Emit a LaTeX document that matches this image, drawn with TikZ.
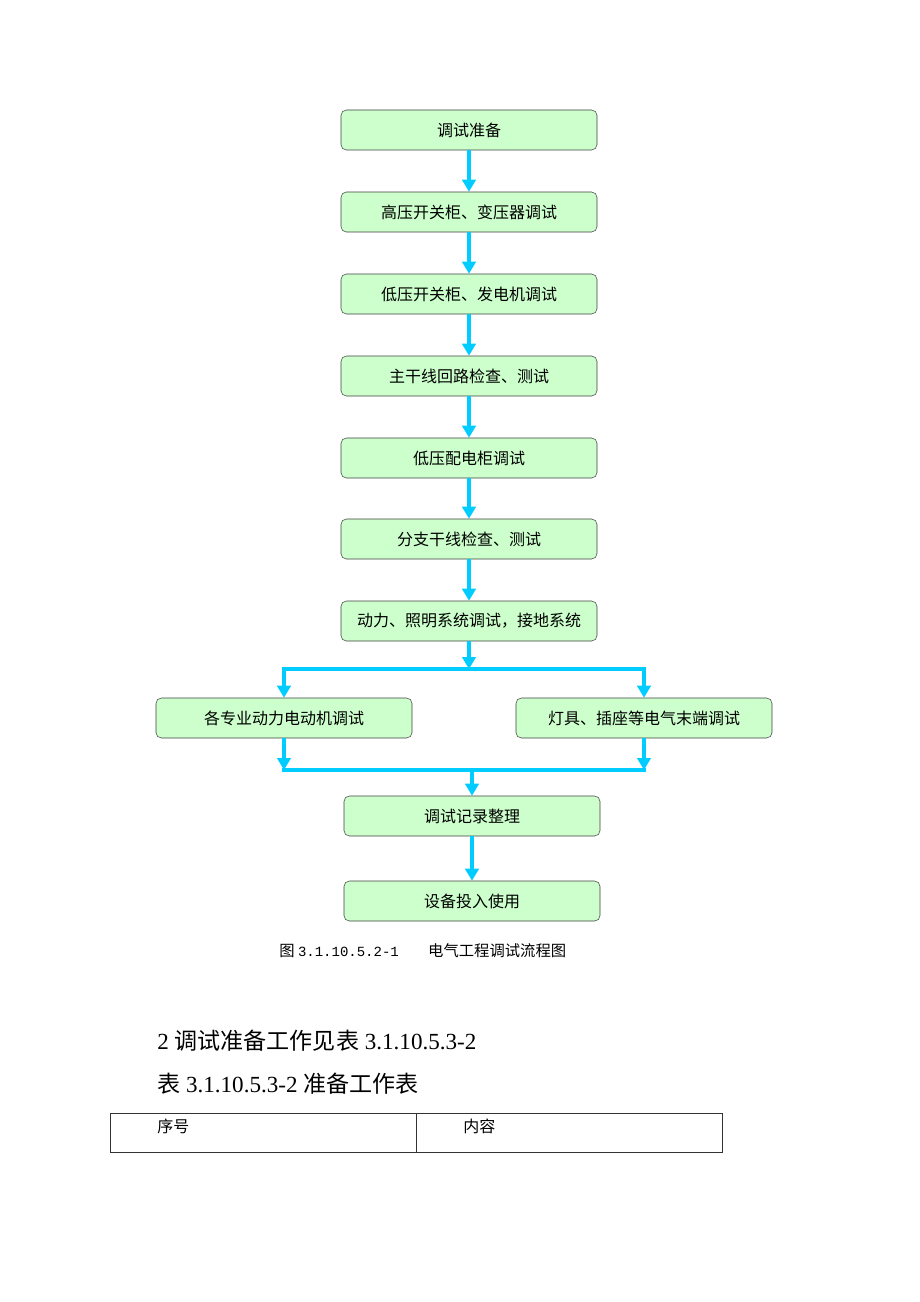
\documentclass[tikz,border=0pt]{standalone}
\usepackage{fontspec}
\setmainfont{Liberation Serif}
\setmonofont{Liberation Mono}
\newfontfamily\cjk{Noto Sans CJK SC}
\usetikzlibrary{arrows.meta}
\definecolor{boxgreen}{RGB}{204,255,204}
\definecolor{flowcyan}{RGB}{0,204,255}
\tikzset{
  stepbox/.style={draw=black!75, fill=boxgreen, rounded corners=4pt, minimum width=192pt,
    minimum height=30pt, inner sep=0pt, font=\cjk\fontsize{12}{14}\selectfont},
  flowarrow/.style={draw=flowcyan, line width=3.2pt, -{Triangle[width=10pt,length=9pt]}},
  flowline/.style={draw=flowcyan, line width=3.2pt}
}
\begin{document}
\begin{tikzpicture}[x=0.75pt,y=-0.75pt] %Diagrama de flujo de la prueba
            \useasboundingbox (0,0) rectangle (920,1302);

            \node[stepbox] (prep) at (469,130) {调试准备};
            \node[stepbox] (hv) at (469,212) {高压开关柜、变压器调试};
            \node[stepbox] (lv) at (469,294) {低压开关柜、发电机调试};
            \node[stepbox] (trunk) at (469,376) {主干线回路检查、测试};
            \node[stepbox] (dist) at (469,458) {低压配电柜调试};
            \node[stepbox] (branch) at (469,539) {分支干线检查、测试};
            \node[stepbox] (power) at (469,621) {动力、照明系统调试，接地系统};
            \node[stepbox] (motor) at (284,718) {各专业动力电动机调试};
            \node[stepbox] (lamp) at (644,718) {灯具、插座等电气末端调试};
            \node[stepbox] (record) at (472,816) {调试记录整理};
            \node[stepbox] (use) at (472,901) {设备投入使用};

            \coordinate (split) at (469,669);
            \coordinate (splitL) at (284,669);
            \coordinate (splitR) at (644,669);
            \coordinate (mergeL) at (284,770);
            \coordinate (mergeR) at (644,770);
            \coordinate (merge) at (472,770);

            \draw[flowarrow] (prep) -- (hv);
            \draw[flowarrow] (hv) -- (lv);
            \draw[flowarrow] (lv) -- (trunk);
            \draw[flowarrow] (trunk) -- (dist);
            \draw[flowarrow] (dist) -- (branch);
            \draw[flowarrow] (branch) -- (power);
            \draw[flowarrow] (power) -- (split);
            \draw[flowline] ([xshift=-1.6pt]splitL) -- ([xshift=1.6pt]splitR);
            \draw[flowarrow] (splitL) -- (motor);
            \draw[flowarrow] (splitR) -- (lamp);
            \draw[flowarrow] (motor) -- (mergeL);
            \draw[flowarrow] (lamp) -- (mergeR);
            \draw[flowline] ([xshift=-1.6pt]mergeL) -- ([xshift=1.6pt]mergeR);
            \draw[flowarrow] (merge) -- (record);
            \draw[flowarrow] (record) -- (use);

            \node[anchor=west, inner sep=0pt, font=\cjk\fontsize{11.5}{13}\selectfont] (caption) at (279,951)
                {图 {\ttfamily\fontsize{10.5}{13}\selectfont 3.1.10.5.2-1}\hspace{22pt}电气工程调试流程图};
            \node[anchor=west, inner sep=0pt, font=\fontsize{17.3}{20}\selectfont] (sect) at (157,1041)
                {2 {\cjk 调试准备工作见表} 3.1.10.5.3-2};
            \node[anchor=west, inner sep=0pt, font=\fontsize{17.3}{20}\selectfont] (title) at (157,1084)
                {{\cjk 表} 3.1.10.5.3-2 {\cjk 准备工作表}};

            \draw[black!80] (110,1113) rectangle (722,1152);
            \draw[black!80] (416,1113) -- (416,1152);
            \node[anchor=west, inner sep=0pt, font=\cjk\fontsize{12}{14}\selectfont] (num) at (157,1126) {序号};
            \node[anchor=west, inner sep=0pt, font=\cjk\fontsize{12}{14}\selectfont] (content) at (463,1126) {内容};
        \end{tikzpicture}
\end{document}
